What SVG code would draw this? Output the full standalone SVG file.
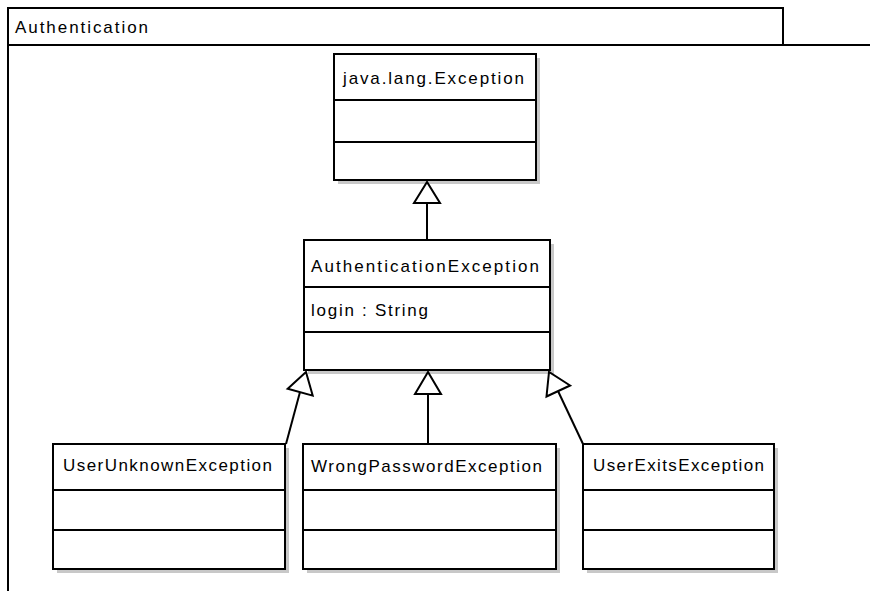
<svg xmlns="http://www.w3.org/2000/svg" width="870" height="591" viewBox="0 0 870 591">
<style>
.box{fill:#ffffff;stroke:#000000;stroke-width:2}
.shadow{fill:#c8c8c8}
.div{stroke:#000000;stroke-width:2}
.t{font-family:"Liberation Sans",Arial,sans-serif;font-size:17px;fill:#000000}
.edge{stroke:#000000;stroke-width:2;fill:none}
.head{fill:#ffffff;stroke:#000000;stroke-width:2;stroke-linejoin:miter}
</style>
<rect width="870" height="591" fill="#ffffff"/>
<g id="package">
<rect x="8" y="8" width="775" height="37" fill="#ffffff" stroke="#000000" stroke-width="2"/>
<line x1="8" y1="45" x2="870" y2="45" class="div"/>
<line x1="8" y1="8" x2="8" y2="591" class="div"/>
<text x="15" y="33" class="t" textLength="133" lengthAdjust="spacing">Authentication</text>
</g>
<g id="javaLangException">
<rect x="338" y="58" width="202" height="126" class="shadow"/>
<rect x="334" y="54" width="202" height="126" class="box"/>
<line x1="334" y1="100" x2="536" y2="100" class="div"/>
<line x1="334" y1="142" x2="536" y2="142" class="div"/>
<text x="343" y="84" class="t" textLength="181" lengthAdjust="spacing">java.lang.Exception</text>
</g>
<g id="AuthenticationException">
<rect x="308" y="244" width="246" height="130" class="shadow"/>
<rect x="304" y="240" width="246" height="130" class="box"/>
<line x1="304" y1="287" x2="550" y2="287" class="div"/>
<line x1="304" y1="332" x2="550" y2="332" class="div"/>
<text x="311" y="272" class="t" textLength="228" lengthAdjust="spacing">AuthenticationException</text>
<text x="311" y="316" class="t" textLength="117" lengthAdjust="spacing">login : String</text>
</g>
<g id="UserUnknownException">
<rect x="57" y="448" width="232" height="125" class="shadow"/>
<rect x="53" y="444" width="232" height="125" class="box"/>
<line x1="53" y1="490" x2="285" y2="490" class="div"/>
<line x1="53" y1="530" x2="285" y2="530" class="div"/>
<text x="63" y="471" class="t" textLength="209" lengthAdjust="spacing">UserUnknownException</text>
</g>
<g id="WrongPasswordException">
<rect x="307" y="448" width="253" height="125" class="shadow"/>
<rect x="303" y="444" width="253" height="125" class="box"/>
<line x1="303" y1="490" x2="556" y2="490" class="div"/>
<line x1="303" y1="530" x2="556" y2="530" class="div"/>
<text x="311" y="472" class="t" textLength="231" lengthAdjust="spacing">WrongPasswordException</text>
</g>
<g id="UserExitsException">
<rect x="587" y="448" width="191" height="125" class="shadow"/>
<rect x="583" y="444" width="191" height="125" class="box"/>
<line x1="583" y1="490" x2="774" y2="490" class="div"/>
<line x1="583" y1="530" x2="774" y2="530" class="div"/>
<text x="593" y="471" class="t" textLength="171" lengthAdjust="spacing">UserExitsException</text>
</g>
<g id="connectors">
<line x1="427" y1="203" x2="427" y2="240" class="edge"/>
<polygon points="427,182 414,203 440,203" class="head"/>
<line x1="428" y1="394" x2="428" y2="444" class="edge"/>
<polygon points="428,372 415,394 441,394" class="head"/>
<line x1="300" y1="392" x2="286" y2="444" class="edge"/>
<polygon points="306,372 287.7,388.8 312.7,395.6" class="head"/>
<line x1="558" y1="391" x2="583" y2="444" class="edge"/>
<polygon points="549,372 546.5,396.5 570.1,385.5" class="head"/>
</g>
</svg>
